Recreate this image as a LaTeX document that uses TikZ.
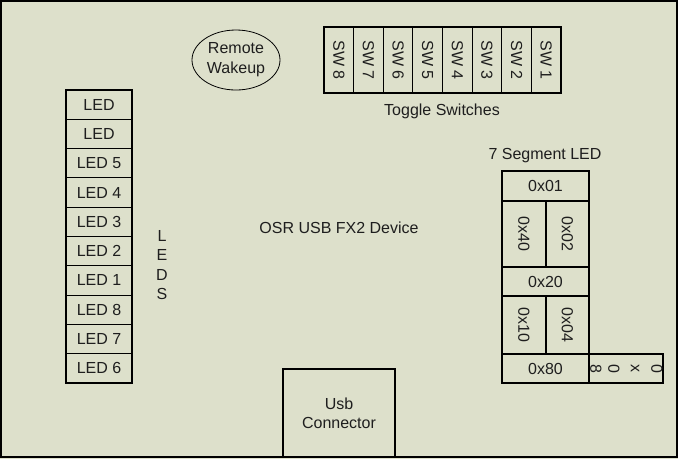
\documentclass[tikz,border=0pt]{standalone}
\usepackage{fontspec}
\setmainfont{Liberation Sans}
\usetikzlibrary{shapes.geometric}
\definecolor{bg}{RGB}{221,224,203}
\definecolor{ink}{RGB}{30,30,30}
\tikzset{
  cell/.style={draw=black, line width=1.1pt, inner sep=0pt, anchor=center, text=ink},
  label/.style={inner sep=0pt, text=ink},
}
\begin{document}
\begin{tikzpicture}[x=1pt,y=-1pt,font=\fontsize{16}{19}\selectfont]
\useasboundingbox (0,0) rectangle (678,459);
\fill[bg] (0,0) rectangle (678,459);
\draw[line width=2pt] (1,1) rectangle (677,457);
% Remote wakeup
\node[cell, ellipse, line width=0.8pt, minimum width=88pt, minimum height=60pt, align=center, font=\fontsize{16}{20}\selectfont] (rw) at (236,60) {Remote\\Wakeup};
% Toggle switches
\foreach \n [count=\i] in {8,7,6,5,4,3,2,1} {
  \node[cell, minimum width=29.625pt, minimum height=66pt] (sw\n) at ({324+29.625*(\i-0.5)},60) {};
  \node[label, rotate=-90] (swt\n) at (sw\n.center) {SW \n};
}
\node[label] (ts) at (442,111) {Toggle Switches};
% LEDs
\foreach \t [count=\i] in {LED,LED,LED 5,LED 4,LED 3,LED 2,LED 1,LED 8,LED 7,LED 6} {
  \node[cell, minimum width=66pt, minimum height=29.3pt] (led\i) at (99,{90+29.3*(\i-0.5)}) {\t};
}
\node[label, align=center, font=\fontsize{16}{19.5}\selectfont] (leds) at (162,265) {L\\E\\D\\S};
% Device
\node[label] (dev) at (339,228) {OSR USB FX2 Device};
% 7 segment
\node[label] (seg) at (545,156) {7 Segment LED};
\node[cell, minimum width=87pt, minimum height=30pt] (s01) at (545.5,186) {0x01};
\node[cell, minimum width=44pt, minimum height=66pt] (s40) at (524,234) {};
\node[label, rotate=-90] (s40t) at (s40.center) {0x40};
\node[cell, minimum width=43pt, minimum height=66pt] (s02) at (567.5,234) {};
\node[label, rotate=-90] (s02t) at (s02.center) {0x02};
\node[cell, minimum width=87pt, minimum height=29pt] (s20) at (545.5,281.5) {0x20};
\node[cell, minimum width=44pt, minimum height=58pt] (s10) at (524,325) {};
\node[label, rotate=-90] (s10t) at (s10.center) {0x10};
\node[cell, minimum width=43pt, minimum height=58pt] (s04) at (567.5,325) {};
\node[label, rotate=-90] (s04t) at (s04.center) {0x04};
\node[cell, minimum width=87pt, minimum height=29pt] (s80) at (545.5,368.5) {0x80};
\node[cell, minimum width=74pt, minimum height=29pt] (s08) at (626,368.5) {};
\node[label, rotate=-90] (c8) at (596,368.5) {8};
\node[label, rotate=-90] (c0a) at (614,368.5) {0};
\node[label, rotate=-90] (cx) at (635,368.5) {x};
\node[label, rotate=-90] (c0b) at (657,368.5) {0};
% USB connector
\node[cell, minimum width=112pt, minimum height=88pt, align=center, font=\fontsize{16}{19}\selectfont] (usb) at (339,413) {Usb\\Connector};
\end{tikzpicture}
\end{document}
